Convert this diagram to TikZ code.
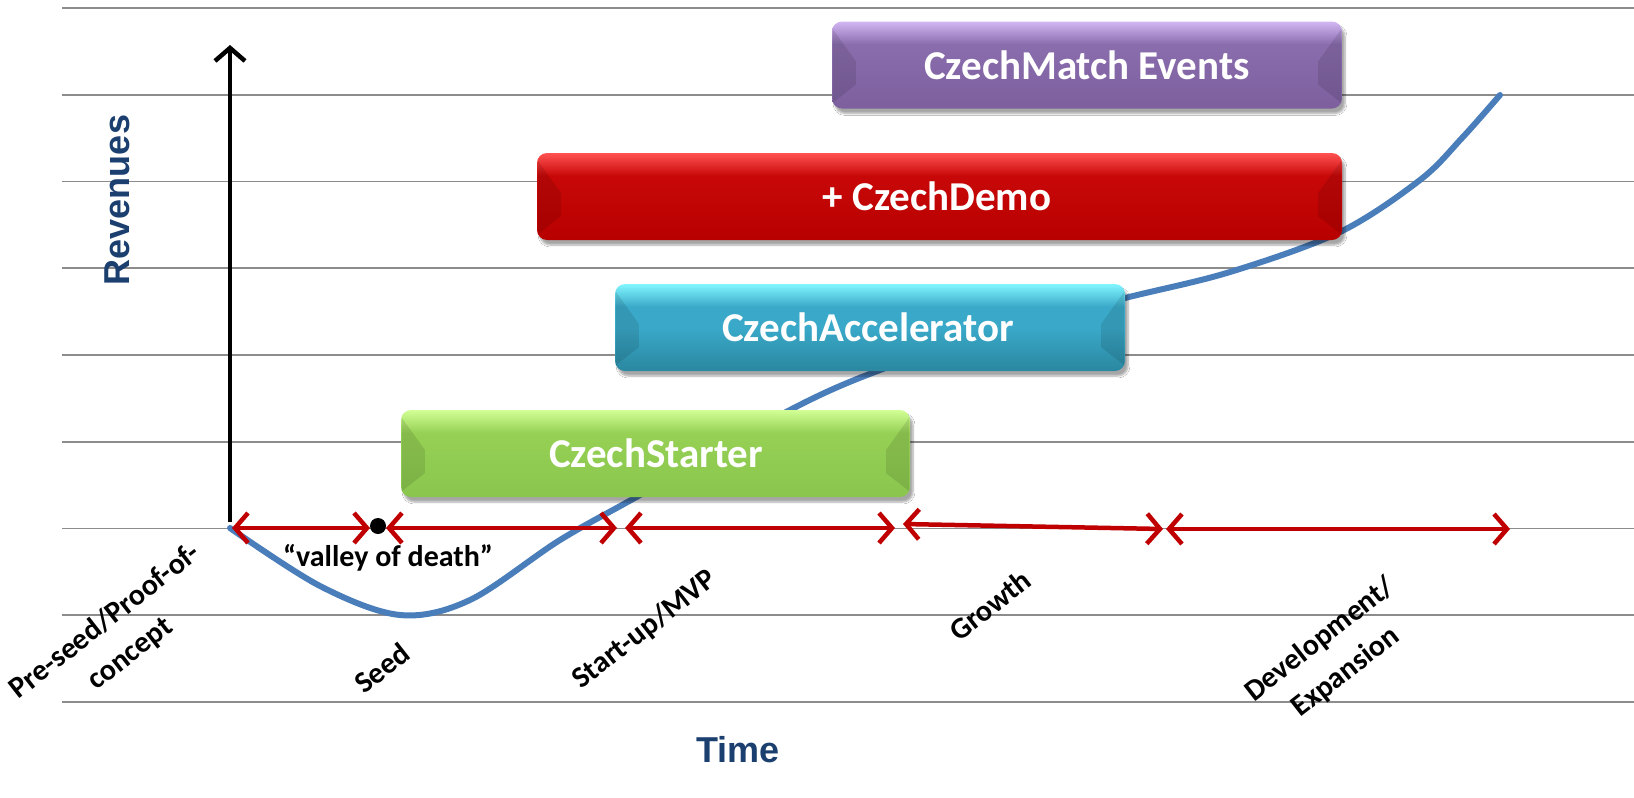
\documentclass[tikz,border=0pt]{standalone}
\usepackage{fontspec}
\setmainfont{Carlito}
\newfontfamily\arialfam{Liberation Sans}
\usetikzlibrary{arrows.meta,shadows.blur,calc}
\definecolor{gridgray}{HTML}{8C8C8C}
\definecolor{curveblue}{HTML}{4A7EBB}
\definecolor{arrowred}{HTML}{C00000}
\definecolor{titleblue}{HTML}{1B3F6E}
\definecolor{pB}{HTML}{7D5F9E}\definecolor{pM}{HTML}{8A6DAD}\definecolor{pT}{HTML}{D3B6F4}
\definecolor{rB}{HTML}{B80000}\definecolor{rM}{HTML}{C80808}\definecolor{rT}{HTML}{FF5252}
\definecolor{cB}{HTML}{2A87A0}\definecolor{cM}{HTML}{3AA9C9}\definecolor{cT}{HTML}{82F6FF}
\definecolor{gB}{HTML}{8AC64E}\definecolor{gM}{HTML}{96D155}\definecolor{gT}{HTML}{D2FF95}
\pgfdeclareverticalshading{purpsh}{100bp}{color(0bp)=(pB); color(25bp)=(pB); color(62bp)=(pM); color(75bp)=(pT); color(100bp)=(pT)}
\pgfdeclareverticalshading{redsh}{100bp}{color(0bp)=(rB); color(25bp)=(rB); color(62bp)=(rM); color(75bp)=(rT); color(100bp)=(rT)}
\pgfdeclareverticalshading{cyansh}{100bp}{color(0bp)=(cB); color(25bp)=(cB); color(50bp)=(cM); color(62bp)=(cM); color(75bp)=(cT); color(100bp)=(cT)}
\pgfdeclareverticalshading{greensh}{100bp}{color(0bp)=(gB); color(25bp)=(gB); color(62bp)=(gM); color(75bp)=(gT); color(100bp)=(gT)}
\tikzset{
  gridline/.style={draw=gridgray, line width=1.6pt},
  phasebox/.style={rectangle, rounded corners=10pt, minimum height=87pt, inner sep=0pt,
    blur shadow={shadow xshift=3pt, shadow yshift=-5pt, shadow blur steps=6, shadow opacity=35}},
  boxtext/.style={text=white, font=\bfseries\fontsize{41}{48}\selectfont},
  facet/.style={fill=black, fill opacity=0.10},
  spanarrow/.style={draw=arrowred, line width=4.5pt, >={Straight Barb[length=13pt,width=30pt]}, <->},
  stagelabel/.style={font=\bfseries\fontsize{30}{41}\selectfont, align=center, rotate=38},
  curvestyle/.style={draw=curveblue, line width=6pt, line cap=round},
  titlelabel/.style={font=\arialfam\bfseries\fontsize{36}{40}\selectfont, text=titleblue}
}
\newcommand{\phasefacets}[1]{%
  \fill[facet] ($(#1.north west)+(1,8)$) -- ($(#1.north west)+(24,40)$) -- ($(#1.south west)+(24,-24)$) -- ($(#1.south west)+(1,-6)$) -- cycle;
  \fill[facet] ($(#1.north east)+(-1,8)$) -- ($(#1.north east)+(-24,40)$) -- ($(#1.south east)+(-24,-24)$) -- ($(#1.south east)+(-1,-6)$) -- cycle;
}
\begin{document}
\begin{tikzpicture}[x=1pt,y=-1pt]
\useasboundingbox (0,0) rectangle (1634,798);
\fill[white] (0,0) rectangle (1634,798);
% grid
\foreach \i in {0,...,8} \draw[gridline] (62,{8+86.75*\i}) -- (1634,{8+86.75*\i});
% revenue curve
\draw[curvestyle] plot[smooth, tension=0.55] coordinates {(230,528) (320,586) (400,615) (470,600) (560,540) (640,495) (790,410) (880,370) (1000,330) (1125,298) (1230,272) (1340,232) (1420,180) (1462,138) (1500,95)};
% axis
\coordinate (axbot) at (230,522);
\coordinate (axtop) at (230,45);
\draw[line width=4.5pt, -{Straight Barb[length=13pt,width=30pt]}] (axbot) -- (axtop);
% boxes
\node[phasebox, shading=purpsh, minimum width=510pt] (match) at (1087,65) {};
\phasefacets{match}
\node[boxtext] (matchtext) at (1087,65) {CzechMatch Events};
\node[phasebox, shading=redsh, minimum width=805pt] (demo) at (939.5,196.5) {};
\phasefacets{demo}
\node[boxtext] (demotext) at (937,196.5) {+ CzechDemo};
\node[phasebox, shading=cyansh, minimum width=510pt] (accel) at (870,327.5) {};
\phasefacets{accel}
\node[boxtext] (acceltext) at (868,327.5) {CzechAccelerator};
\node[phasebox, shading=greensh, minimum width=509pt] (starter) at (655.5,453.5) {};
\phasefacets{starter}
\node[boxtext] (startertext) at (656,453.5) {CzechStarter};
% stage arrows
\coordinate (s1a) at (232,528); \coordinate (s1b) at (370,528);
\node[circle, fill=black, minimum size=16pt, inner sep=0pt] (dot) at (378,526) {};
\coordinate (s2a) at (386,528); \coordinate (s2b) at (617,528);
\coordinate (s3a) at (625,528); \coordinate (s3b) at (895,528);
\coordinate (s4a) at (903,524); \coordinate (s4b) at (1163,529);
\coordinate (s5a) at (1166,529); \coordinate (s5b) at (1510,529);
\draw[spanarrow] (s1a) -- (s1b);
\draw[spanarrow] (s2a) -- (s2b);
\draw[spanarrow] (s3a) -- (s3b);
\draw[spanarrow] (s4a) -- (s4b);
\draw[spanarrow] (s5a) -- (s5b);
% labels
\node[font=\bfseries\fontsize{30}{37}\selectfont] (valley) at (388,558) {“valley of death”};
\node[stagelabel] (preseed) at (118,638) {Pre-seed/Proof-of-\\concept};
\node[stagelabel] (seed) at (382,668) {Seed};
\node[stagelabel] (startup) at (645,630) {Start-up/MVP};
\node[stagelabel] (growth) at (990,605) {Growth};
\node[stagelabel] (devel) at (1333,656) {Development/\\Expansion};
\node[titlelabel, rotate=90] (rev) at (117,200) {Revenues};
\node[titlelabel] (time) at (738,750) {Time};
\end{tikzpicture}
\end{document}
